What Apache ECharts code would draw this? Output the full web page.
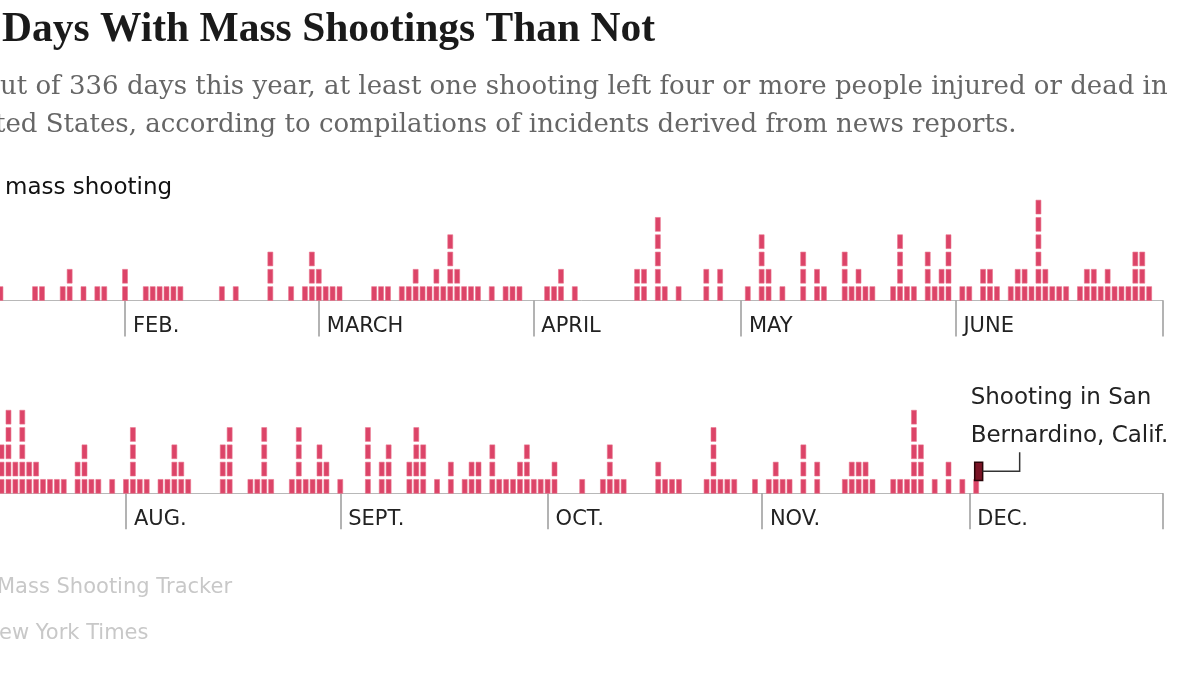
<!DOCTYPE html>
<html><head><meta charset="utf-8">
<script src="https://cdn.jsdelivr.net/npm/echarts@6/dist/echarts.min.js"></script>
<style>html,body{margin:0;padding:0;background:#fff;overflow:hidden}#c{width:1200px;height:675px}</style>
</head><body><div id="c"></div>
<script>
// Daily counts of mass shootings (null = day not visible in the picture)
const jan = [null,null,null,null,null,null,null,null,null,null,null,null,null,1,0,0,0,0,1,1,0,0,1,2,0,1,0,1,1,0,0];
const feb = [2,0,0,1,1,1,1,1,1,0,0,0,0,0,1,0,1,0,0,0,0,3,0,0,1,0,1,3];
const mar = [2,1,1,1,0,0,0,0,1,1,1,0,1,1,2,1,1,2,1,4,2,1,1,1,0,1,0,1,1,1,0];
const apr = [0,0,1,1,2,0,1,0,0,0,0,0,0,0,0,2,2,0,5,1,0,1,0,0,0,2,0,2,0,0];
const may = [0,1,0,4,2,0,1,0,0,3,0,2,1,0,0,3,1,2,1,1,0,0,1,4,1,1,0,3,1,2,4];
const jun = [0,1,1,0,2,2,1,0,1,2,2,1,6,2,1,1,1,0,1,2,2,1,2,1,1,1,3,3,1,0];
const jul = [null,null,null,null,null,null,null,null,null,null,null,null,null,3,5,2,5,2,2,1,1,1,1,0,2,3,1,1,0,1,0];
const aug = [1,4,1,1,0,1,1,3,2,1,0,0,0,0,3,4,0,0,1,1,4,1,0,0,1,4,1,1,3,2,0];
const sep = [1,0,0,0,4,0,2,3,0,0,2,4,3,0,1,0,2,0,1,2,2,0,3,1,1,1,2,3,1,1];
const oct = [1,2,0,0,0,1,0,0,1,3,1,1,0,0,0,0,2,1,1,1,0,0,0,1,4,1,1,1,0,0,1];
const nov = [0,1,2,1,1,0,3,0,2,0,0,0,1,2,2,2,1,0,0,1,1,1,5,3,0,1,0,2,0,1];
const dec = [0,2];

// Month starts (day index within each half-year row) and tick labels
const topStarts = [0,31,59,90,120,151];
const topLabels = ['JAN.','FEB.','MARCH','APRIL','MAY','JUNE'];
const bottomStarts = [0,31,62,92,123,153];
const bottomLabels = ['JULY','AUG.','SEPT.','OCT.','NOV.','DEC.'];
const rowDays = 181;

// Highlighted shooting (Dec 2, second incident of the day)
const highlightDay = 154;
const highlightLevel = 2;
const annotation = ['Shooting in San', 'Bernardino, Calif.'];

const titleText = 'Days With Mass Shootings Than Not';
const subtitleLines = ['ut of 336 days this year, at least one shooting left four or more people injured or dead in',
                       'ted States, according to compilations of incidents derived from news reports.'];
const legendText = 'mass shooting';
const sourceLines = ['Mass Shooting Tracker', 'ew York Times'];

function buildBlocks(months, starts, hl) {
  const out = [];
  months.forEach((arr, m) => arr.forEach((c, i) => {
    if (c == null) return;
    const d = starts[m] + i;
    for (let k = 1; k <= c; k++) {
      out.push([d, k, (hl && d === highlightDay && k === highlightLevel) ? 1 : 0]);
    }
  }));
  return out;
}

const topData = buildBlocks([jan, feb, mar, apr, may, jun], topStarts, false);
const bottomData = buildBlocks([jul, aug, sep, oct, nov, dec], bottomStarts, true);

function renderBlock(params, api) {
  const x = api.value(0), k = api.value(1), hl = api.value(2);
  const base = api.coord([x, k - 1]);
  const top = api.coord([x, k]);
  const slot = api.size([1, 0])[0];
  const unit = base[1] - top[1];
  const gap = unit * 0.2;
  const w = slot * 0.72;
  if (!hl) {
    return {
      type: 'rect',
      shape: { x: base[0] - w / 2, y: top[1] + gap, width: w, height: unit - gap },
      style: { fill: '#dc4468', stroke: '#e9728c', lineWidth: 0.6 }
    };
  }
  const rx = base[0] - w / 2 + 1, ry = top[1] + gap;
  const rw = w + 3, rh = unit + 1;
  const midY = ry + rh / 2;
  const lx = rx + rw + 37;
  return {
    type: 'group',
    children: [
      { type: 'rect', shape: { x: rx, y: ry, width: rw, height: rh },
        style: { fill: '#7a1426', stroke: '#2a0509', lineWidth: 1.5 } },
      { type: 'polyline', shape: { points: [[rx + rw, midY], [lx, midY], [lx, midY - 19]] },
        style: { stroke: '#333', lineWidth: 1.5, fill: null } },
      { type: 'text', style: { text: annotation[0], x: rx - 4, y: ry - 64, font: '23px "DejaVu Sans"', fill: '#222',
        align: 'left', verticalAlign: 'middle', textAlign: 'left', textVerticalAlign: 'middle' } },
      { type: 'text', style: { text: annotation[1], x: rx - 4, y: ry - 26, font: '23px "DejaVu Sans"', fill: '#222',
        align: 'left', verticalAlign: 'middle', textAlign: 'left', textVerticalAlign: 'middle' } }
    ]
  };
}

function xAxisFor(gridIndex, starts, labels) {
  return {
    gridIndex: gridIndex, type: 'value', min: 0, max: rowDays,
    axisLine: { show: true, lineStyle: { color: '#b8b8b8', width: 1 } },
    axisTick: { show: true, customValues: starts.concat([rowDays]), length: 36, lineStyle: { color: '#9a9a9a', width: 1.5 } },
    axisLabel: {
      show: true, customValues: starts,
      formatter: v => labels[starts.indexOf(v)] || '',
      align: 'left', verticalAlign: 'middle', margin: 26, padding: [0, 0, 0, 8],
      fontFamily: 'DejaVu Sans', fontSize: 21, color: '#222'
    },
    splitLine: { show: false }
  };
}

function textEl(text, x, y, font, fill) {
  return { type: 'text', x: 0, y: 0, silent: true,
    style: { text: text, x: x, y: y, font: font, fill: fill,
      align: 'left', verticalAlign: 'middle', textAlign: 'left', textVerticalAlign: 'middle' } };
}

const chart = echarts.init(document.getElementById('c'));
chart.setOption({
  animation: false,
  backgroundColor: '#ffffff',
  grid: [
    { left: -89.5, width: 1252.5, top: 196.7, height: 103.8, containLabel: false, outerBoundsMode: 'none' },
    { left: -88.3, width: 1251.1, top: 389.5, height: 103.8, containLabel: false, outerBoundsMode: 'none' }
  ],
  xAxis: [ xAxisFor(0, topStarts, topLabels), xAxisFor(1, bottomStarts, bottomLabels) ],
  yAxis: [
    { gridIndex: 0, type: 'value', min: 0, max: 6, show: false },
    { gridIndex: 1, type: 'value', min: 0, max: 6, show: false }
  ],
  series: [
    { type: 'custom', xAxisIndex: 0, yAxisIndex: 0, data: topData, renderItem: renderBlock, clip: false, encode: { x: 0, y: 1 } },
    { type: 'custom', xAxisIndex: 1, yAxisIndex: 1, data: bottomData, renderItem: renderBlock, clip: false, encode: { x: 0, y: 1 }, z: 3 }
  ],
  graphic: [
    textEl(titleText, 2, 30, 'bold 41.5px "Liberation Serif"', '#1a1a1a'),
    textEl(subtitleLines[0], 0, 87, '26px "DejaVu Serif"', '#666'),
    textEl(subtitleLines[1], -5, 125, '26px "DejaVu Serif"', '#666'),
    textEl(legendText, 5, 188, '23px "DejaVu Sans"', '#111'),
    textEl(sourceLines[0], -3, 588, '21px "DejaVu Sans"', '#c8c8c8'),
    textEl(sourceLines[1], -1, 634, '21px "DejaVu Sans"', '#c8c8c8')
  ]
});
</script>
</body></html>
